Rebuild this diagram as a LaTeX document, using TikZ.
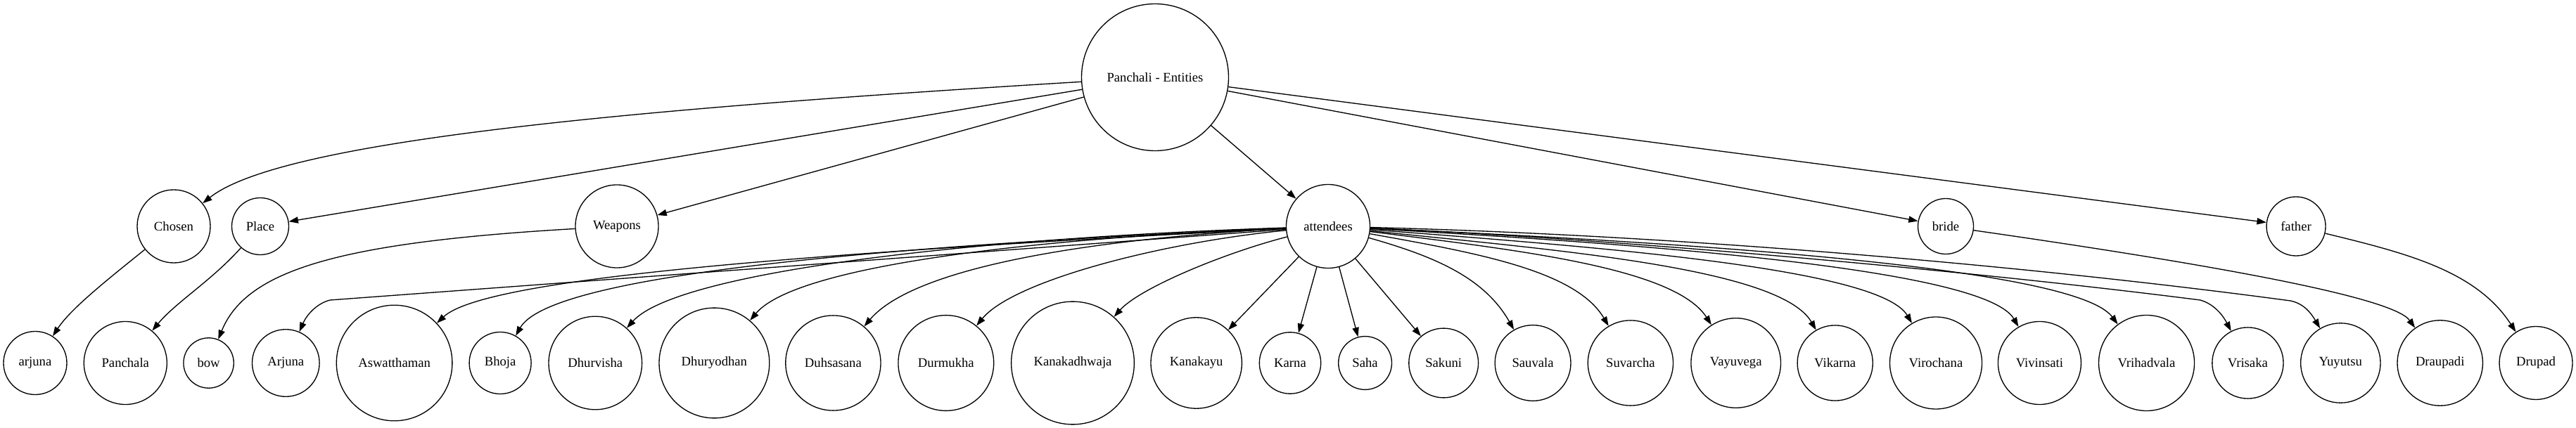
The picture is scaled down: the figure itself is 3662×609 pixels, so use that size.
\documentclass[tikz,border=0pt]{standalone}
\usepackage{fontspec}
\setmainfont{Liberation Serif}
\usetikzlibrary{arrows.meta}
\begin{document}
\begin{tikzpicture}[x=1pt,y=-1pt,
  ent/.style={circle,draw,line width=1.33pt,inner sep=0pt,font=\fontsize{18.67}{22}\selectfont},
  arr/.style={line width=1.33pt,-{Triangle[length=13.3pt,width=9.3pt]}}]
\useasboundingbox (0,0) rectangle (3662,609);
% top
\node[ent,minimum size=209pt] (P) at (1642,110) {Panchali - Entities};
% middle row
\node[ent,minimum size=104pt] (Chosen) at (247,322) {Chosen};
\node[ent,minimum size=81pt] (Place) at (370,322) {Place};
\node[ent,minimum size=118pt] (Weapons) at (877,322) {Weapons};
\node[ent,minimum size=119pt] (att) at (1888,322) {attendees};
\node[ent,minimum size=79pt] (bride) at (2766,322) {bride};
\node[ent,minimum size=84pt] (father) at (3264,322) {father};
% bottom row
\node[ent,minimum size=90pt] (arjuna) at (50,516.5) {arjuna};
\node[ent,minimum size=118pt] (Panchala) at (178.3,516.5) {Panchala};
\node[ent,minimum size=71.4pt] (bow) at (296.6,516.5) {bow};
\node[ent,minimum size=95.6pt] (Arjuna) at (406.3,516.5) {Arjuna};
\node[ent,minimum size=164.6pt] (Aswatthaman) at (560.6,516.5) {Aswatthaman};
\node[ent,minimum size=88pt] (Bhoja) at (711.1,516.5) {Bhoja};
\node[ent,minimum size=132.6pt] (Dhurvisha) at (846.3,516.5) {Dhurvisha};
\node[ent,minimum size=156.8pt] (Dhuryodhan) at (1015.4,516.5) {Dhuryodhan};
\node[ent,minimum size=135.2pt] (Duhsasana) at (1184.4,516.5) {Duhsasana};
\node[ent,minimum size=135.8pt] (Durmukha) at (1344.8,516.5) {Durmukha};
\node[ent,minimum size=174.8pt] (Kanakadhwaja) at (1525,516.5) {Kanakadhwaja};
\node[ent,minimum size=129.4pt] (Kanakayu) at (1700.7,516.5) {Kanakayu};
\node[ent,minimum size=87.4pt] (Karna) at (1834,516.5) {Karna};
\node[ent,minimum size=75.8pt] (Saha) at (1940.6,516.5) {Saha};
\node[ent,minimum size=98.8pt] (Sakuni) at (2052.2,516.5) {Sakuni};
\node[ent,minimum size=107.8pt] (Sauvala) at (2179.1,516.5) {Sauvala};
\node[ent,minimum size=121.2pt] (Suvarcha) at (2317.9,516.5) {Suvarcha};
\node[ent,minimum size=127.6pt] (Vayuvega) at (2467.7,516.5) {Vayuvega};
\node[ent,minimum size=107.2pt] (Vikarna) at (2608.7,516.5) {Vikarna};
\node[ent,minimum size=131pt] (Virochana) at (2752,516.5) {Virochana};
\node[ent,minimum size=118pt] (Vivinsati) at (2899.4,516.5) {Vivinsati};
\node[ent,minimum size=136pt] (Vrihadvala) at (3051.5,516.5) {Vrihadvala};
\node[ent,minimum size=101.2pt] (Vrisaka) at (3195.4,516.5) {Vrisaka};
\node[ent,minimum size=113.4pt] (Yuyutsu) at (3327.3,516.5) {Yuyutsu};
\node[ent,minimum size=121.4pt] (Draupadi) at (3468.7,516.5) {Draupadi};
\node[ent,minimum size=104pt] (Drupad) at (3605,516.5) {Drupad};
% bend points
\coordinate (kA) at (469,427);
\coordinate (kV) at (3128,427);
\coordinate (kY) at (3256,428);
% edges from top
\draw[arr] (P) .. controls (900,155) and (400,200) .. (Chosen);
\draw[arr] (P) -- (Place);
\draw[arr] (P) -- (Weapons);
\draw[arr] (P) -- (att);
\draw[arr] (P) -- (bride);
\draw[arr] (P) -- (father);
% edges from middle row
\draw[arr] (Chosen) .. controls (150,400) and (100,440) .. (arjuna);
\draw[arr] (Place) .. controls (300,400) and (250,430) .. (Panchala);
\draw[arr] (Weapons) .. controls (480,345) and (350,385) .. (bow);
\draw[arr] (bride) .. controls (3100,370) and (3400,420) .. (Draupadi);
\draw[arr] (father) .. controls (3420,360) and (3520,385) .. (Drupad);
% attendees fan
\draw[arr] (att) -- (kA) .. controls (450,432) and (436,448) .. (Arjuna);
\draw[arr] (att) .. controls (1150,360) and (690,395) .. (Aswatthaman);
\draw[arr] (att) .. controls (1200,352) and (780,395) .. (Bhoja);
\draw[arr] (att) .. controls (1350,340) and (960,390) .. (Dhurvisha);
\draw[arr] (att) .. controls (1450,340) and (1130,380) .. (Dhuryodhan);
\draw[arr] (att) .. controls (1550,340) and (1300,380) .. (Duhsasana);
\draw[arr] (att) .. controls (1650,345) and (1440,400) .. (Durmukha);
\draw[arr] (att) .. controls (1740,360) and (1620,410) .. (Kanakadhwaja);
\draw[arr] (att) -- (Kanakayu);
\draw[arr] (att) -- (Karna);
\draw[arr] (att) -- (Saha);
\draw[arr] (att) -- (Sakuni);
\draw[arr] (att) .. controls (2040,365) and (2110,395) .. (Sauvala);
\draw[arr] (att) .. controls (2100,360) and (2240,385) .. (Suvarcha);
\draw[arr] (att) .. controls (2150,355) and (2380,380) .. (Vayuvega);
\draw[arr] (att) .. controls (2200,355) and (2530,380) .. (Vikarna);
\draw[arr] (att) .. controls (2250,350) and (2670,380) .. (Virochana);
\draw[arr] (att) .. controls (2300,345) and (2820,380) .. (Vivinsati);
\draw[arr] (att) .. controls (2400,345) and (2950,380) .. (Vrihadvala);
\draw[arr] (att) .. controls (2300,340) and (2800,385) .. (kV) .. controls (3145,432) and (3158,445) .. (Vrisaka);
\draw[arr] (att) .. controls (2400,335) and (2900,380) .. (kY) .. controls (3275,432) and (3285,445) .. (Yuyutsu);
\end{tikzpicture}
\end{document}
